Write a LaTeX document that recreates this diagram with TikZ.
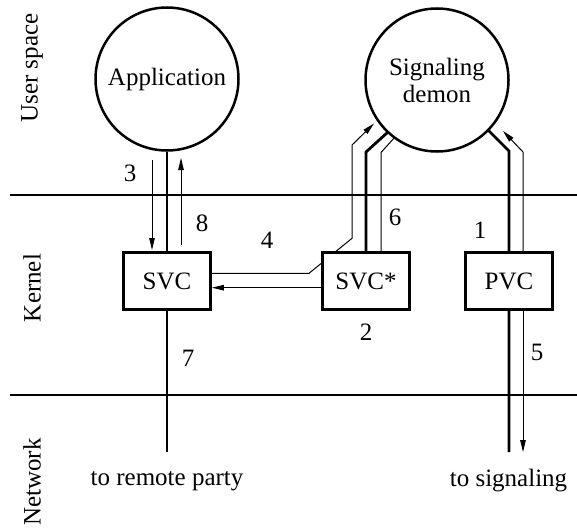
\documentclass[tikz,border=0pt]{standalone}
\usepackage{fontspec}
\setmainfont{Liberation Serif}
\usetikzlibrary{arrows.meta}
\pgfdeclarelayer{bg}
\pgfsetlayers{bg,main}
\begin{document}
\begin{tikzpicture}[x=1pt,y=-1pt,
  txt/.style={font=\fontsize{25}{27}\selectfont, inner sep=0pt},
  proc/.style={circle, draw, line width=2.5pt, fill=white, minimum size=143pt, inner sep=0pt, align=center, font=\fontsize{25}{27}\selectfont},
  box/.style={draw, line width=2.8pt, fill=white, minimum width=87pt, minimum height=57pt, inner sep=0pt, font=\fontsize{25}{27}\selectfont},
  layer/.style={line width=2.8pt},
  thickln/.style={line width=2.8pt},
  thinln/.style={line width=1pt},
  arr/.style={thinln, -{Triangle[length=12pt,width=5.5pt]}},
]
\useasboundingbox (0,0) rectangle (577,527);

% main nodes
\node[proc] (app) at (167,79) {Application};
\node[proc] (sig) at (437,80) {Signaling\\demon};
\node[box] (svc) at (167,281) {SVC};
\node[box] (svcs) at (366,281) {SVC*};
\node[box] (pvc) at (509,281) {PVC};

% side labels
\node[txt, rotate=90] (us) at (32,68) {User space};
\node[txt, rotate=90] (kn) at (32,288) {Kernel};
\node[txt, rotate=90] (nw) at (32,482) {Network};

% bottom labels
\node[txt] (remote) at (167,481) {to remote party};
\node[txt] (tosig) at (508.5,481) {to signaling};

% numbers
\node[txt] (n3) at (130,173) {3};
\node[txt] (n8) at (202,223) {8};
\node[txt] (n4) at (267,240) {4};
\node[txt] (n6) at (395,217) {6};
\node[txt] (n1) at (480,230) {1};
\node[txt] (n2) at (366,332) {2};
\node[txt] (n7) at (188,358) {7};
\node[txt] (n5) at (537,352) {5};

% coordinates
\coordinate (L1a) at (10,195); \coordinate (L1b) at (577,195);
\coordinate (L2a) at (10,395); \coordinate (L2b) at (577,395);
\coordinate (svcEnd) at (167,452);
\coordinate (pvcEnd) at (509,452);
\coordinate (a3s) at (152,160); \coordinate (a3e) at (152,250);
\coordinate (a8s) at (181,245); \coordinate (a8e) at (181,158);
\coordinate (p4a) at (309,273.3); \coordinate (p4b) at (352,238.3);
\coordinate (p4c) at (352,145); \coordinate (p4d) at (374,123.5);
\coordinate (k6a) at (366,152); \coordinate (k6b) at (388,132);
\coordinate (t6a) at (381,152.5); \coordinate (t6b) at (395,137);
\coordinate (kpa) at (509,151); \coordinate (kpb) at (488,130);
\coordinate (t1a) at (523,152); \coordinate (t1b) at (503,131);
\coordinate (t5b) at (523,452);

\begin{pgfonlayer}{bg}
\draw[layer] (L1a) -- (L1b);
\draw[layer] (L2a) -- (L2b);
\draw[thickln] (app.south) -- (svcEnd);
\draw[arr] (a3s) -- (a3e);
\draw[arr] (a8s) -- (a8e);
\draw[arr] (svc.east |- p4a) -- (p4a) -- (p4b) -- (p4c) -- (p4d);
\draw[arr] (svcs.west |- 0,287.7) -- (svc.east |- 0,287.7);
\draw[thickln] (svcs.north) -- (k6a) -- (k6b);
\draw[thinln] (svcs.north -| t6a) -- (t6a) -- (t6b);
\draw[thickln] (pvcEnd) -- (kpa) -- (kpb);
\draw[arr] (pvc.north -| t1a) -- (t1a) -- (t1b);
\draw[arr] (pvc.south -| t5b) -- (t5b);
\end{pgfonlayer}
\end{tikzpicture}
\end{document}
